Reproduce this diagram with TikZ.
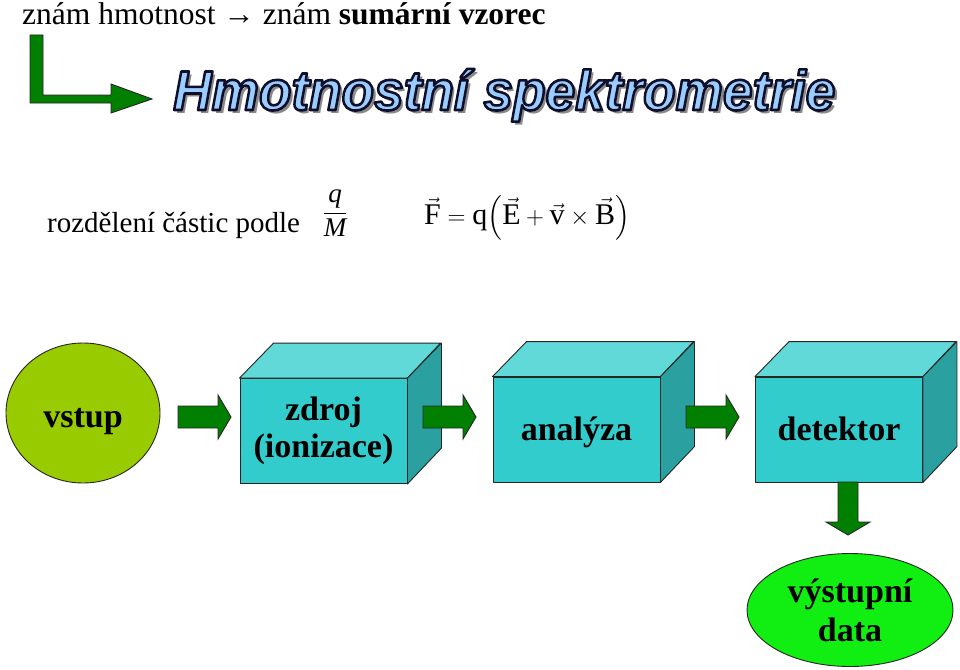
\documentclass[tikz,border=0pt]{standalone}
\usepackage{fontspec}
\usepackage{amsmath}
\setmainfont{Liberation Serif}
\newfontfamily\titlefont{Liberation Sans}
\usetikzlibrary{calc,shapes.geometric}
\definecolor{arrowgreen}{HTML}{007F00}
\definecolor{boxfront}{HTML}{33CCCC}
\definecolor{boxtop}{HTML}{62D9D9}
\definecolor{boxside}{HTML}{2BA0A0}
\definecolor{inputgreen}{HTML}{99CC00}
\definecolor{outputgreen}{HTML}{11EE11}
\definecolor{titlefill}{HTML}{99CCFF}
\definecolor{titleshadow}{HTML}{8A8A8A}
\tikzset{
  garrow/.style={fill=arrowgreen,draw=black!85,line width=0.9pt,line join=miter},
  boxface/.style={draw=black!85,line width=0.9pt,line join=round},
  frontbox/.style={boxface,fill=boxfront,minimum width=167pt,minimum height=105pt,inner sep=0pt,
     font=\fontsize{34}{37}\selectfont\bfseries,align=center},
  onelinebox/.style={frontbox,text height=29pt,text depth=8pt},
  blobnode/.style={ellipse,draw=black!85,line width=0.9pt,inner sep=0pt,
     font=\fontsize{34}{39}\selectfont\bfseries,align=center},
  plaintext/.style={inner sep=0pt,anchor=base west},
  titletext/.style={inner sep=0pt,anchor=base west,font=\titlefont\fontsize{56}{60}\selectfont\bfseries\itshape}
}
\newcommand\titlestring{\scalebox{0.95}[1]{Hmotnostní spektrometrie}}
% outlined text: fill+stroke text render mode with a dark stroke colour
\newcommand\outlined[1]{{\color{titlefill}\special{pdf:code q 0.06 0.06 0.16 RG 2.6 w 1 j 2 Tr}#1\special{pdf:code Q}}}
\newcommand\cuboid[1]{%
  \draw[boxface,fill=boxtop] (#1.north west) -- ++(34,-35) -- ++(167,0) -- (#1.north east) -- cycle;
  \draw[boxface,fill=boxside] (#1.north east) -- ++(34,-35) -- ++(0,105) -- (#1.south east) -- cycle;}
\newcommand\harrow[2]{%
  \draw[garrow] ($(#1)+(0,-11)$) -- ($(#2)+(-13,-11)$) -- ($(#2)+(-13,-22)$) -- (#2)
     -- ($(#2)+(-13,22)$) -- ($(#2)+(-13,11)$) -- ($(#1)+(0,11)$) -- cycle;}
\newcommand\varrow[2]{%
  \draw[garrow] ($(#1)+(-10,0)$) -- ($(#2)+(-10,-13)$) -- ($(#2)+(-22,-13)$) -- (#2)
     -- ($(#2)+(22,-13)$) -- ($(#2)+(10,-13)$) -- ($(#1)+(10,0)$) -- cycle;}
\begin{document}
\begin{tikzpicture}[x=1pt,y=-1pt]
\path[use as bounding box,fill=white] (0,0) rectangle (960,669);

% top line
\node[plaintext,font=\fontsize{31.5}{35}\selectfont] (known) at (22,25)
  {znám hmotnost → znám \textbf{sumární vzorec}};

% L-shaped arrow
\draw[garrow] (30,35) -- (43,35) -- (43,95) -- (111,95) -- (111,84) -- (152,99)
  -- (111,113) -- (111,103) -- (30,103) -- cycle;

% title (WordArt-like: shadow, dark outline, light-blue fill)
\node[titletext] (title) at (173,110) {%
  \rlap{\color{titleshadow}\kern3.5pt\raisebox{-3.5pt}{\titlestring}}%
  \outlined{\titlestring}};

% second row
\node[plaintext,font=\fontsize{29}{33}\selectfont] (split) at (47,232) {rozdělení částic podle};
\node[inner sep=0pt,font=\fontsize{27}{30}\selectfont] (ratio) at (335,213)
  {$\dfrac{\textit{q}}{\textit{M}}$};
\node[inner sep=0pt,font=\fontsize{30}{34}\selectfont] (force) at (527,218)
  {$\vec{\mathrm{F}}=\mathrm{q}\Bigl(\vec{\mathrm{E}}+\vec{\mathrm{v}}\times\vec{\mathrm{B}}\Bigr)$};

% flow
\node[blobnode,fill=inputgreen,minimum width=154pt,minimum height=140pt,text height=36pt,text depth=8pt] (vstup) at (83,413) {vstup};
\node[frontbox] (zdroj) at (323.5,431) {zdroj\\(ionizace)};
\cuboid{zdroj}
\node[onelinebox] (analyza) at (576.5,429.5) {analýza};
\cuboid{analyza}
\node[onelinebox] (detektor) at (839,429.5) {detektor};
\cuboid{detektor}
\node[blobnode,fill=outputgreen,minimum width=206pt,minimum height=113pt] (data) at (850,610) {výstupní\\data};

\coordinate (a1s) at (178,417); \coordinate (a1e) at (231,417);
\coordinate (a2s) at (423,417); \coordinate (a2e) at (476,417);
\coordinate (a3s) at (686,417); \coordinate (a3e) at (739,417);
\harrow{a1s}{a1e}
\harrow{a2s}{a2e}
\harrow{a3s}{a3e}
\coordinate (a4s) at (848,482); \coordinate (a4e) at (848,535);
\varrow{a4s}{a4e}
\end{tikzpicture}
\end{document}
